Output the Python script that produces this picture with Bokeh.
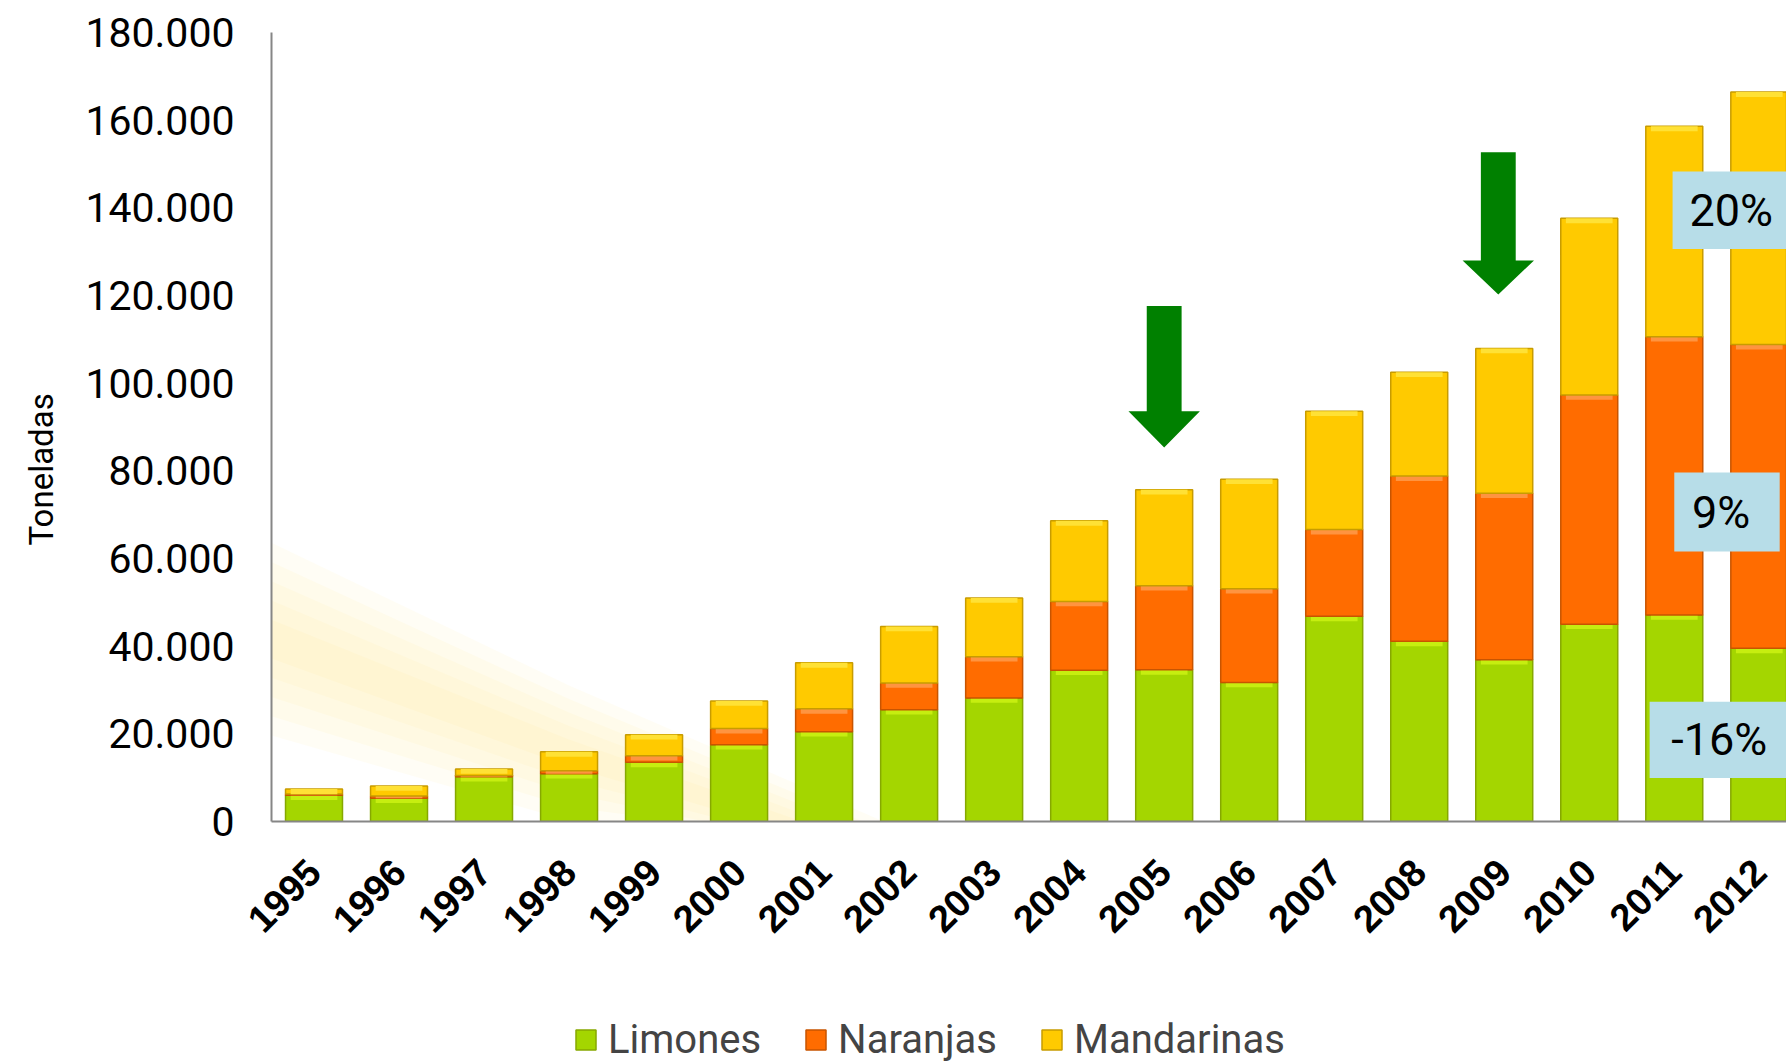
import numpy as np
from math import pi
from bokeh.plotting import figure
from bokeh.layouts import column
from bokeh.models import Range1d, FixedTicker, Legend, LegendItem, ColumnDataSource, Title
from bokeh.embed import file_html
from bokeh.resources import INLINE
from bokeh.core.properties import value

# ---------------- data ----------------
years = [1995, 1996, 1997, 1998, 1999, 2000, 2001, 2002, 2003,
         2004, 2005, 2006, 2007, 2008, 2009, 2010, 2011, 2012]
limones = [6000, 5300, 10200, 10900, 13500, 17500, 20500, 25500, 28200,
           34500, 34600, 31700, 46800, 41100, 36900, 45000, 47100, 39500]
naranjas = [300, 500, 300, 700, 1500, 3700, 5200, 6100, 9400,
            15700, 19200, 21400, 19800, 37700, 38000, 52300, 63500, 69300]
mandarinas = [1100, 2300, 1500, 4300, 4800, 6300, 10500, 12900, 13400,
              18400, 21900, 25000, 27000, 23700, 33000, 40300, 48000, 57600]
series_names = ["Limones", "Naranjas", "Mandarinas"]

y_ticks = [0, 20000, 40000, 60000, 80000, 100000, 120000, 140000, 160000, 180000]
y_tick_labels = ["0", "20.000", "40.000", "60.000", "80.000", "100.000",
                 "120.000", "140.000", "160.000", "180.000"]
x_tick_labels = [str(y) for y in years]
y_title = "Toneladas"

# annotations: change 2012 vs 2011
change_labels = ["-16%", "9%", "20%"]
change_x = [2011.53, 2011.55, 2011.67]
change_y = [18700, 70500, 139400]
box_left = [2010.71, 2011.0, 2010.98]
box_right = [2012.45, 2012.24, 2012.45]
box_bottom = [9900, 61600, 130600]
box_top = [27300, 79600, 148300]

# arrows
arrow_years = [2005, 2008.93]
arrow_tops = [117600, 152700]
arrow_necks = [93600, 128000]
arrow_tips = [85300, 120200]

# ---------------- style ----------------
FONT = "Roboto"
fill_colors = ["#A4D600", "#FF6C00", "#FFCA00"]
bevel_colors = ["#C6EE10", "#FF9440", "#FFE135"]
edge_colors = ["#86A800", "#C85400", "#C89C00"]
BAR_W = 0.67

W = 1786
H_MAIN = 966
H_LEG = 1063 - H_MAIN

p = figure(width=W, height=H_MAIN, output_backend="svg", toolbar_location=None,
           x_range=Range1d(1994.5, 2012.32), y_range=Range1d(0, 180000),
           min_border_left=271, min_border_right=0, min_border_top=32,
           min_border_bottom=H_MAIN - 821)
p.grid.visible = False
p.outline_line_color = None
p.background_fill_color = "white"
p.border_fill_color = "white"

# faint, soft decorative background swoosh (slide background)
for k in [1.0, 0.8, 0.6, 0.4, 0.2]:
    hw = 22000 * k
    p.patch([1994.5, 1998, 2000.5 + 1.2 * k, 2000.5 - 1.5 * k, 1998, 1994.5],
            [41600 + hw, 15600 + 0.7 * hw, 0, 0, max(0, 15600 - 0.7 * hw), 41600 - hw],
            fill_color="#FFE680", fill_alpha=0.08, line_color=None)

lim = np.array(limones, dtype=float)
nar = np.array(naranjas, dtype=float)
man = np.array(mandarinas, dtype=float)
bottoms = [np.zeros(len(years)), lim, lim + nar]
tops = [lim, lim + nar, lim + nar + man]
bevel_h = 1100.0

for i, name in enumerate(series_names):
    src = ColumnDataSource(dict(
        x=years, bottom=bottoms[i], top=tops[i],
        bevel=np.maximum(bottoms[i], tops[i] - bevel_h)))
    p.vbar(x="x", bottom="bottom", top="top", width=BAR_W, source=src,
           fill_color=fill_colors[i], line_color=edge_colors[i], line_width=1.5)
    p.vbar(x="x", bottom="bevel", top="top", width=BAR_W * 0.82, source=src,
           fill_color=bevel_colors[i], line_color=None)

# arrows
ax, ay = [], []
for xc, t, nk, tip in zip(arrow_years, arrow_tops, arrow_necks, arrow_tips):
    sw, hw = 0.205, 0.42
    ax.append([xc - sw, xc + sw, xc + sw, xc + hw, xc, xc - hw, xc - sw])
    ay.append([t, t, nk, nk, tip, nk, nk])
p.patches(ax, ay, fill_color="#008000", line_color=None)

# change boxes
p.quad(left=box_left, right=box_right, bottom=box_bottom, top=box_top,
       fill_color="#B7DDE8", line_color=None)
p.text(x=change_x, y=change_y, text=change_labels, text_align="center",
       text_baseline="middle", text_font=value(FONT), text_font_size="45px",
       text_color="black")

# axes
p.yaxis.ticker = FixedTicker(ticks=y_ticks)
p.yaxis.major_label_overrides = {t: l for t, l in zip(y_ticks, y_tick_labels)}
p.yaxis.major_label_text_font = FONT
p.yaxis.major_label_text_font_size = "41px"
p.yaxis.major_label_text_color = "black"
p.yaxis.major_label_standoff = 37
p.yaxis.major_tick_out = 0
p.yaxis.major_tick_in = 0
p.yaxis.minor_tick_out = 0
p.yaxis.minor_tick_in = 0
p.yaxis.axis_line_color = "#868686"
p.yaxis.axis_line_width = 2

# y title as a side title so it can sit lower, like the reference
ytitle = Title(text=y_title, align="left", vertical_align="top", offset=276,
               standoff=40, text_font=FONT, text_font_size="33px",
               text_font_style="normal", text_color="black")
p.add_layout(ytitle, "left")

p.xaxis.ticker = FixedTicker(ticks=years)
p.xaxis.major_label_overrides = {y: l for y, l in zip(years, x_tick_labels)}
p.xaxis.major_label_orientation = pi / 4
p.xaxis.major_label_text_font = "Liberation Sans"
p.xaxis.major_label_text_font_style = "bold"
p.xaxis.major_label_text_font_size = "38px"
p.xaxis.major_label_text_color = "black"
p.xaxis.major_label_standoff = 44
p.xaxis.major_tick_out = 0
p.xaxis.major_tick_in = 0
p.xaxis.minor_tick_out = 0
p.xaxis.minor_tick_in = 0
p.xaxis.axis_line_color = "#868686"
p.xaxis.axis_line_width = 2

# ---------------- legend strip ----------------
lg = figure(width=W, height=H_LEG, output_backend="svg", toolbar_location=None,
            x_range=Range1d(0, 1), y_range=Range1d(0, 1),
            x_axis_location=None, y_axis_location=None, min_border=0)
lg.grid.visible = False
lg.outline_line_color = None
lg.background_fill_color = "white"
lg.border_fill_color = "white"
items = []
for i, name in enumerate(series_names):
    # legend proxies with no drawable data
    r = lg.vbar(x=[np.nan], bottom=[np.nan], top=[np.nan], width=0.5,
                fill_color=fill_colors[i], line_color=edge_colors[i], line_width=1.5)
    items.append(LegendItem(label=name, renderers=[r]))
legend = Legend(items=items, orientation="horizontal", location=(302, 0),
                label_text_font=FONT, label_text_font_size="40px",
                glyph_width=25, glyph_height=25, label_standoff=10, spacing=42,
                padding=0, margin=0, background_fill_alpha=0, border_line_alpha=0)
lg.add_layout(legend)

layout = column(p, lg, spacing=0)
open("out.html", "w").write(file_html(layout, INLINE))
